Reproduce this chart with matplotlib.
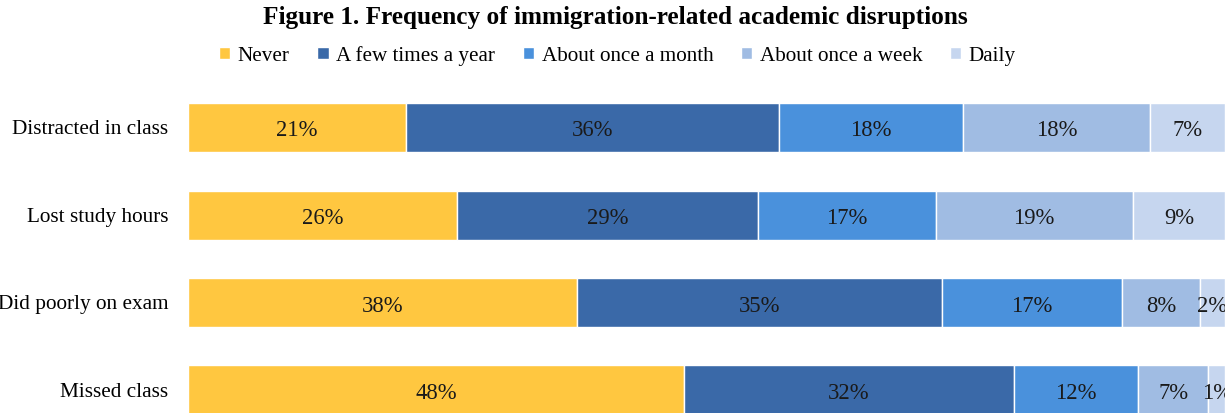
import matplotlib.pyplot as plt
import numpy as np

plt.rcParams["font.family"] = ["Liberation Serif", "DejaVu Serif"]

# Data
items = ["Distracted in class", "Lost study hours", "Did poorly on exam", "Missed class"]
responses = ["Never", "A few times a year", "About once a month", "About once a week", "Daily"]
values = np.array([
    [21.0, 36.0, 17.7, 18.1, 7.2],
    [25.9, 29.1, 17.1, 19.0, 8.9],
    [37.5, 35.2, 17.4, 7.5, 2.4],
    [47.8, 31.9, 11.9, 6.8, 1.6],
])
labels = [
    ["21%", "36%", "18%", "18%", "7%"],
    ["26%", "29%", "17%", "19%", "9%"],
    ["38%", "35%", "17%", "8%", "2%"],
    ["48%", "32%", "12%", "7%", "1%"],
]
colors = ["#FFC740", "#3A69A8", "#4A91DC", "#A0BCE3", "#C6D6EF"]

fig = plt.figure(figsize=(12.25, 4.13), dpi=100)
ax = fig.add_axes([188 / 1225, 0.0, 1 - 188 / 1225, 329.25 / 413])

y = np.arange(len(items))
left = np.zeros(len(items))
for j, resp in enumerate(responses):
    ax.barh(y, values[:, j], left=left, height=0.56, color=colors[j],
            edgecolor="white", linewidth=1, label=resp)
    for i in range(len(items)):
        ax.text(left[i] + values[i, j] / 2, y[i] + 0.04, labels[i][j],
                ha="center", va="center", fontsize=16.3, color="#1a1a1a")
    left += values[:, j]

ax.set_xlim(0, 100)
ax.set_ylim(3 + 23 / 87.5, -0.5)
ax.set_yticks(y)
ax.set_yticklabels(items, fontsize=15.3)
ax.tick_params(axis="y", length=0, pad=14)
ax.set_xticks([])
for s in ax.spines.values():
    s.set_visible(False)

fig.suptitle("Figure 1. Frequency of immigration-related academic disruptions",
             fontsize=18.2, fontweight="bold", y=0.985, x=0.502)
fig.legend(loc="upper center", bbox_to_anchor=(0.504, 0.91), ncol=5, frameon=False,
           fontsize=15.2, handlelength=0.55, handleheight=0.55, handletextpad=0.35,
           columnspacing=1.3, borderaxespad=0)

fig.savefig("out.png", dpi=100)
